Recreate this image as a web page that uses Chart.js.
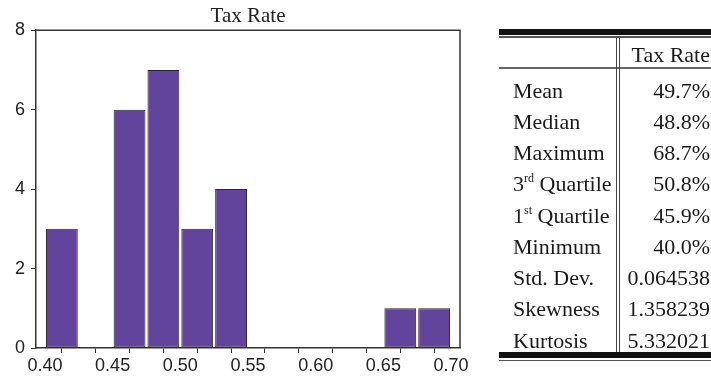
<!DOCTYPE html>
<html>
<head>
<meta charset="utf-8">
<script src="https://cdn.jsdelivr.net/npm/chart.js@4/dist/chart.umd.min.js"></script>
<style>
  html, body { margin:0; padding:0; width:711px; height:376px; overflow:hidden; background:#fff; }
  #wrap { position:absolute; left:0; top:0; width:496px; height:376px; }
  #c { display:block; }
  #tbl { position:absolute; left:0; top:0; width:711px; height:376px; overflow:hidden; font-family:'Liberation Serif','Times New Roman',serif; color:#1a1a1a; }
  .rule { position:absolute; }
  .row { position:absolute; left:498px; width:212px; height:31px; line-height:31px; font-size:22px; white-space:nowrap; }
  .row .lab { position:absolute; left:15px; }
  .row .val { position:absolute; right:0; }
  sup { font-size:12px; line-height:0; vertical-align:9px; }
</style>
</head>
<body>
<div id="wrap"><canvas id="c" width="496" height="376"></canvas></div>
<div id="tbl"></div>
<script>
// ---- data ----
const chartTitle = 'Tax Rate';
const binStarts = [0.400, 0.425, 0.450, 0.475, 0.500, 0.525, 0.550, 0.575, 0.600, 0.625, 0.650, 0.675];
const binCounts = [3, 0, 6, 7, 3, 4, 0, 0, 0, 0, 1, 1];
const binWidth = 0.025;
const xTickValues = [0.400, 0.425, 0.450, 0.475, 0.500, 0.525, 0.550, 0.575, 0.600, 0.625, 0.650, 0.675, 0.700];
const xTickLabels = ['0.40', '0.45', '0.50', '0.55', '0.60', '0.65', '0.70'];
const yTickLabels = ['0', '2', '4', '6', '8'];
const statHeader = 'Tax Rate';
const statLabels = ['Mean', 'Median', 'Maximum', '3<sup>rd</sup> Quartile', '1<sup>st</sup> Quartile', 'Minimum', 'Std. Dev.', 'Skewness', 'Kurtosis'];
const statValues = ['49.7%', '48.8%', '68.7%', '50.8%', '45.9%', '40.0%', '0.064538', '1.358239', '5.332021'];

// ---- histogram ----
const points = [];
binStarts.forEach((s, i) => { if (binCounts[i] > 0) points.push({ x: s + binWidth / 2, y: binCounts[i] }); });

const titleFont = { family: "'Liberation Serif', 'Times New Roman', serif", size: 21, weight: 'normal' };

const framePlugin = {
  id: 'frame',
  afterDatasetsDraw(chart) {
    const a = chart.chartArea, ctx = chart.ctx;
    ctx.save();
    ctx.strokeStyle = '#333';
    ctx.lineWidth = 1.5;
    ctx.beginPath();
    ctx.moveTo(a.left, a.top);
    ctx.lineTo(a.right, a.top);
    ctx.lineTo(a.right, a.bottom);
    ctx.stroke();
    // title centred over the plot area
    ctx.fillStyle = '#222';
    ctx.font = `${titleFont.size}px ${titleFont.family}`;
    ctx.textAlign = 'center';
    ctx.textBaseline = 'middle';
    ctx.fillText(chartTitle, (a.left + a.right) / 2, 4 + titleFont.size * 1.2 / 2);
    ctx.restore();
  }
};

const tickFont = { family: "'Liberation Sans', Arial, sans-serif", size: 18 };

new Chart(document.getElementById('c'), {
  type: 'bar',
  data: {
    datasets: [{
      data: points,
      backgroundColor: '#63449C',
      borderColor: '#262626',
      borderWidth: 1,
      borderSkipped: false,
      categoryPercentage: 1.0,
      barPercentage: 0.94
    }]
  },
  options: {
    responsive: false,
    animation: false,
    devicePixelRatio: 1,
    layout: { padding: { left: 0, right: 36, top: 0, bottom: 0 } },
    plugins: {
      legend: { display: false },
      tooltip: { enabled: false },
      title: {
        display: true,
        text: chartTitle,
        color: 'rgba(0,0,0,0)',
        font: titleFont,
        padding: { top: 4, bottom: 1 }
      }
    },
    scales: {
      x: {
        type: 'linear',
        min: 0.3934,
        max: 0.7066,
        offset: false,
        afterBuildTicks: (scale) => { scale.ticks = xTickValues.map(v => ({ value: v })); },
        afterFit: (scale) => { scale.height = 28; },
        ticks: {
          autoSkip: false,
          maxRotation: 0,
          padding: 2,
          color: '#222',
          font: tickFont,
          callback: (v) => {
            const lab = v.toFixed(2);
            return xTickLabels.includes(lab) && Math.abs(v * 100 - Math.round(v * 100)) < 1e-6 ? lab : '';
          }
        },
        grid: { drawOnChartArea: false, drawTicks: true, tickLength: 5, tickColor: '#333', tickWidth: 1 },
        border: { display: true, color: '#333', width: 1.5 }
      },
      y: {
        min: 0,
        max: 8,
        afterBuildTicks: (scale) => { scale.ticks = yTickLabels.map(t => ({ value: Number(t) })); },
        afterFit: (scale) => { scale.width = 36; },
        ticks: {
          padding: 6,
          color: '#222',
          font: tickFont,
          callback: (v) => yTickLabels.includes(String(v)) ? String(v) : ''
        },
        grid: { drawOnChartArea: false, drawTicks: true, tickLength: 5, tickColor: '#333', tickWidth: 1 },
        border: { display: true, color: '#333', width: 1.5 }
      }
    }
  },
  plugins: [framePlugin],
});
</script>
<script>
// ---- statistics table ----
(function () {
  const t = document.getElementById('tbl');
  function rule(l, tp, w, h, col) {
    const d = document.createElement('div');
    d.className = 'rule';
    d.style.cssText = `left:${l}px;top:${tp}px;width:${w}px;height:${h}px;background:${col};`;
    t.appendChild(d);
  }
  // top double rule
  rule(499, 29, 230, 6, '#111');
  rule(499, 36, 230, 1.5, '#555');
  // header underline
  rule(499, 67, 230, 1.5, '#666');
  // vertical double line
  rule(616, 37, 1.2, 315, '#444');
  rule(619, 37, 1.2, 315, '#444');
  // bottom double rule
  rule(499, 352, 230, 6, '#111');
  rule(499, 359.5, 230, 1.5, '#555');

  const hdr = document.createElement('div');
  hdr.className = 'row';
  hdr.style.top = (54 - 15.5) + 'px';
  hdr.innerHTML = `<span class="val">${statHeader}</span>`;
  t.appendChild(hdr);

  statLabels.forEach((lab, i) => {
    const r = document.createElement('div');
    r.className = 'row';
    r.style.top = (90 + i * 31.25 - 15.5) + 'px';
    r.innerHTML = `<span class="lab">${lab}</span><span class="val">${statValues[i]}</span>`;
    t.appendChild(r);
  });
})();
</script>
</body>
</html>
